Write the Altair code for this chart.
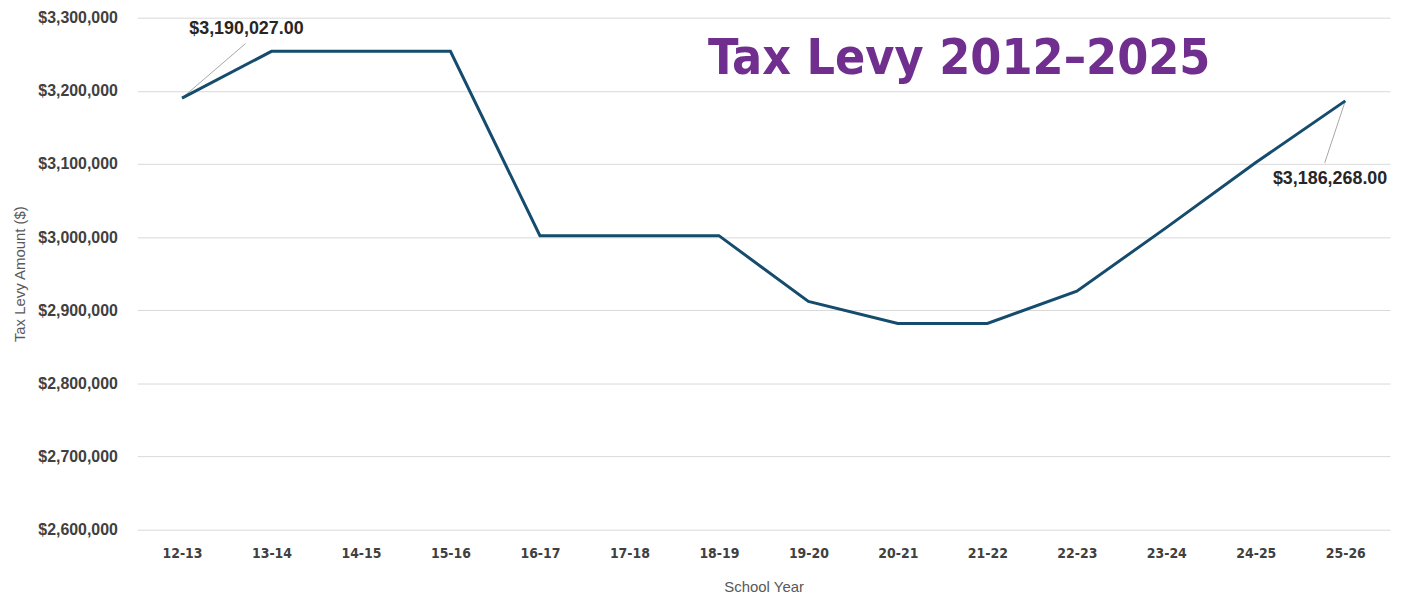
import json
import altair as alt
import pandas as pd

years = ["12-13", "13-14", "14-15", "15-16", "16-17", "17-18", "18-19",
         "19-20", "20-21", "21-22", "22-23", "23-24", "24-25", "25-26"]
levy = [3190027, 3254000, 3254000, 3254000, 3002000, 3002000, 3002000,
        2912000, 2882000, 2882000, 2926000, 3013000, 3102000, 3186268]

ann_idx = [0, 13]
ann_text = ["$3,190,027.00", "$3,186,268.00"]
# label anchor (index, value) and leader-line end points in data units
ann_label_x = [0.72, 12.83]
ann_label_y = [3285000, 3079000]
ann_lead_x = [0.71, 12.77]
ann_lead_y = [3264600, 3101400]

df = pd.DataFrame({"i": list(range(len(years))), "year": years, "levy": levy})
ann = pd.DataFrame({
    "x0": [ann_idx[k] for k in range(2)],
    "y0": [levy[ann_idx[k]] for k in range(2)],
    "x1": ann_lead_x, "y1": ann_lead_y,
    "lx": ann_label_x, "ly": ann_label_y, "text": ann_text,
})

label_expr = json.dumps(years) + "[datum.value]"

xscale = alt.Scale(domain=[-0.5, 13.5], nice=False, zero=False)
yscale = alt.Scale(domain=[2600000, 3300000], nice=False, zero=False)

COND = "DejaVu Sans Condensed, Liberation Sans"

x_axis = alt.Axis(values=list(range(14)), labelExpr=label_expr, title="School Year",
                  grid=False, domain=False, ticks=False, labelPadding=17,
                  labelFont=COND, labelFontSize=14, labelFontWeight="bold",
                  labelColor="#404040", titleFont="Liberation Sans", titleFontSize=15,
                  titleFontWeight="normal", titleColor="#595959", titlePadding=19)
y_axis = alt.Axis(values=list(range(2600000, 3300001, 100000)), format="$,.0f",
                  title="Tax Levy Amount ($)", grid=True, gridColor="#d9d9d9", domain=False,
                  ticks=False, labelPadding=20, labelFont="Liberation Sans", labelFontSize=16,
                  labelFontWeight="bold", labelColor="#404040", titleFont="Liberation Sans",
                  titleFontSize=15, titleFontWeight="normal", titleColor="#595959",
                  titlePadding=10)

base = alt.Chart(df)
line = base.mark_line(color="#154c6e", strokeWidth=3).encode(
    x=alt.X("i:Q", scale=xscale, axis=x_axis),
    y=alt.Y("levy:Q", scale=yscale, axis=y_axis),
)

leaders = alt.Chart(ann).mark_rule(color="#a6a6a6", strokeWidth=1).encode(
    x=alt.X("x0:Q", scale=xscale), y=alt.Y("y0:Q", scale=yscale),
    x2="x1:Q", y2="y1:Q",
)
labels = alt.Chart(ann).mark_text(font="Liberation Sans", fontSize=18, fontWeight="bold",
                                  color="#262626", align="center", baseline="middle").encode(
    x=alt.X("lx:Q", scale=xscale), y=alt.Y("ly:Q", scale=yscale), text="text:N",
)

chart = alt.layer(leaders, line, labels).properties(
    width=1260, height=515,
    autosize=alt.AutoSizeParams(type="none"),
    padding={"left": 130, "top": 8, "right": 4, "bottom": 72},
    title=alt.TitleParams("Tax Levy 2012–2025", anchor="start", dx=699, dy=119,
                          baseline="alphabetic", font=COND,
                          fontSize=50, fontWeight="bold", color="#702f8f"),
).configure_view(stroke=None)

chart.save("out.html", embed_options={"renderer": "svg", "actions": False})
